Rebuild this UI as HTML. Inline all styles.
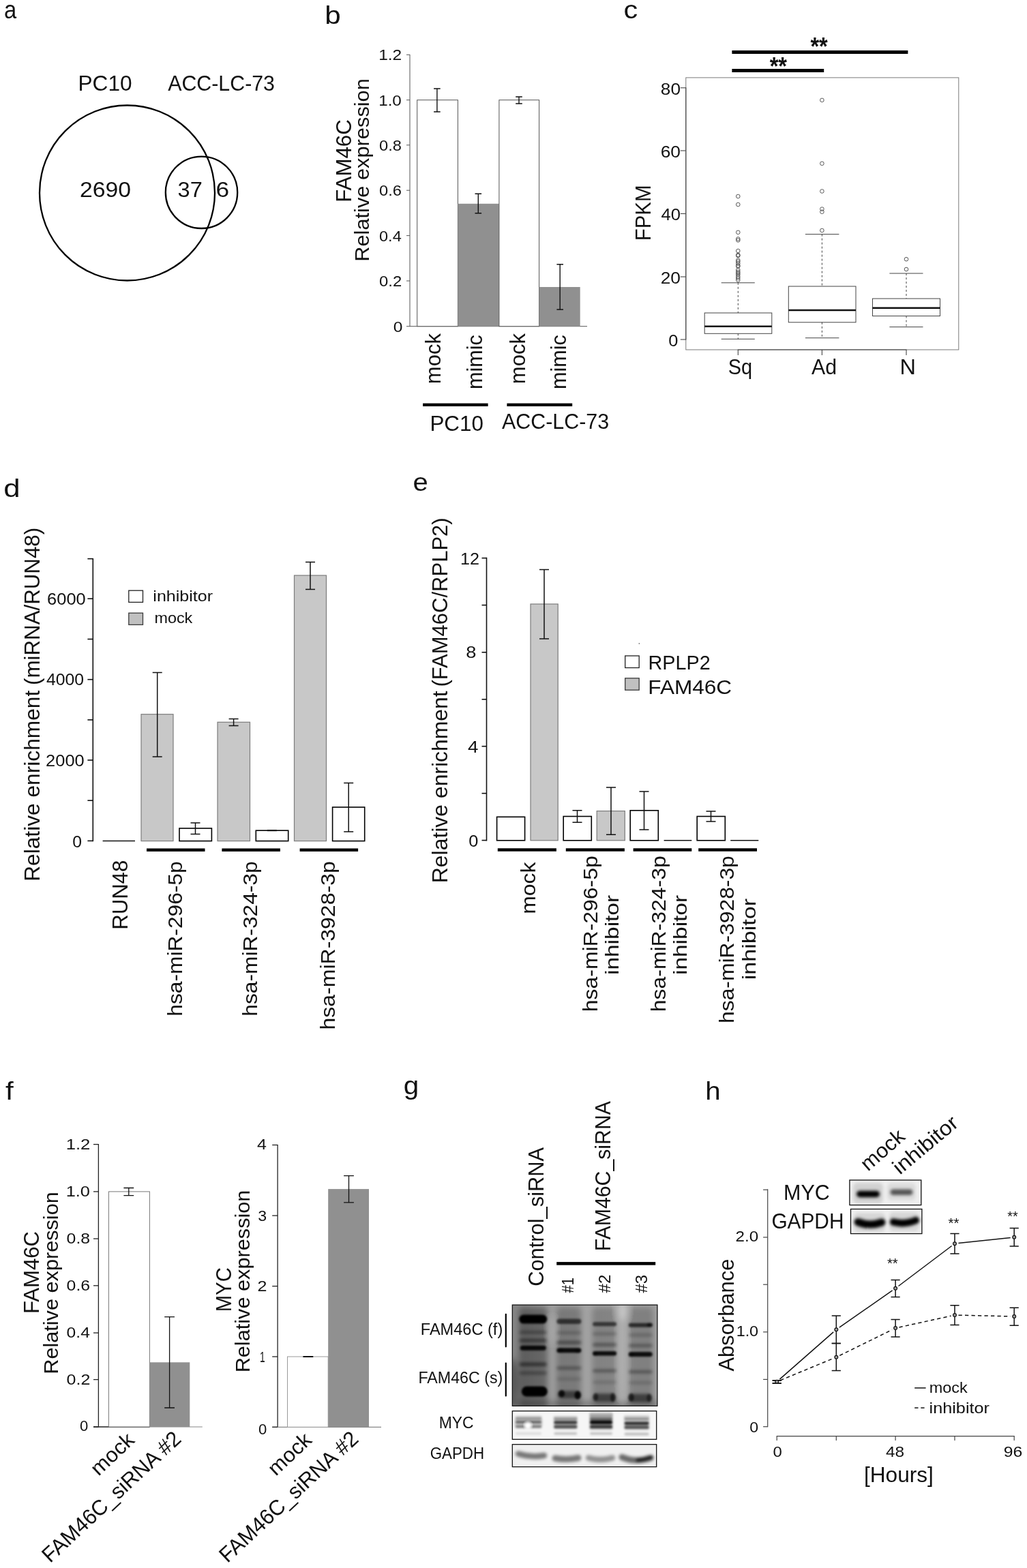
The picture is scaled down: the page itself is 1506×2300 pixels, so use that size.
<!DOCTYPE html>
<html lang="en">
<head>
<meta charset="utf-8">
<title>Figure</title>
<style>
html,body{margin:0;padding:0;background:#fff;}
body{width:1506px;height:2300px;overflow:hidden;}
svg{display:block;font-family:"Liberation Sans", "Noto Sans CJK JP", sans-serif;fill:#111;}
</style>
</head>
<body>
<svg width="1506" height="2300" viewBox="0 0 1506 2300">
<rect width="1506" height="2300" fill="#fff"/>
<g id="panel-a">
<text x="6.09" y="26.6" font-size="37.8" textLength="18.25" lengthAdjust="spacingAndGlyphs">a</text>
<text x="114.47" y="132.9" font-size="31.5" textLength="79.09" lengthAdjust="spacingAndGlyphs">PC10</text>
<text x="246.2" y="132.9" font-size="31.5" textLength="156.81" lengthAdjust="spacingAndGlyphs">ACC-LC-73</text>
<circle cx="186.5" cy="283" r="128.5" fill="none" stroke="#000" stroke-width="2.3"/>
<circle cx="295.5" cy="282.3" r="52.7" fill="none" stroke="#000" stroke-width="2.3"/>
<text x="117.01" y="288.8" font-size="31.5" textLength="75.06" lengthAdjust="spacingAndGlyphs">2690</text>
<text x="260.6" y="288.8" font-size="31.5" textLength="36.21" lengthAdjust="spacingAndGlyphs">37</text>
<text x="316.64" y="288.8" font-size="31.5" textLength="19.62" lengthAdjust="spacingAndGlyphs">6</text>
</g>
<g id="panel-b">
<text x="476.26" y="35" font-size="37.8" textLength="23.48" lengthAdjust="spacingAndGlyphs">b</text>
<line x1="601" y1="80" x2="601" y2="479" stroke="#555" stroke-width="1"/>
<line x1="596" y1="478.7" x2="861" y2="478.7" stroke="#555" stroke-width="1"/>
<line x1="596" y1="80.3" x2="601" y2="80.3" stroke="#555" stroke-width="1"/>
<text x="555.16" y="88.4" font-size="22.57" textLength="34.07" lengthAdjust="spacingAndGlyphs">1.2</text>
<line x1="596" y1="146.7" x2="601" y2="146.7" stroke="#555" stroke-width="1"/>
<text x="555.18" y="154.69" font-size="22.57" textLength="33.67" lengthAdjust="spacingAndGlyphs">1.0</text>
<line x1="596" y1="212.8" x2="601" y2="212.8" stroke="#555" stroke-width="1"/>
<text x="556.05" y="220.79" font-size="22.57" textLength="32.9" lengthAdjust="spacingAndGlyphs">0.8</text>
<line x1="596" y1="279.2" x2="601" y2="279.2" stroke="#555" stroke-width="1"/>
<text x="556.05" y="287.19" font-size="22.57" textLength="32.9" lengthAdjust="spacingAndGlyphs">0.6</text>
<line x1="596" y1="345.6" x2="601" y2="345.6" stroke="#555" stroke-width="1"/>
<text x="556.06" y="353.59" font-size="22.57" textLength="32.65" lengthAdjust="spacingAndGlyphs">0.4</text>
<line x1="596" y1="412" x2="601" y2="412" stroke="#555" stroke-width="1"/>
<text x="556.05" y="419.99" font-size="22.57" textLength="33.15" lengthAdjust="spacingAndGlyphs">0.2</text>
<text x="576.72" y="486.69" font-size="22.57" textLength="13.67" lengthAdjust="spacingAndGlyphs">0</text>
<text x="514.7" y="296.8" font-size="31.5" transform="rotate(-90 514.7 296.8)" textLength="121.6" lengthAdjust="spacingAndGlyphs">FAM46C</text>
<text x="541.1" y="383.76" font-size="29.93" transform="rotate(-90 541.1 383.76)" textLength="268.62" lengthAdjust="spacingAndGlyphs">Relative expression</text>
<rect x="611.7" y="146.7" width="59.7" height="332" fill="#fff" stroke="#555" stroke-width="1"/>
<rect x="671.4" y="298.8" width="60.5" height="179.9" fill="#909090"/>
<rect x="731.9" y="146.7" width="58.7" height="332" fill="#fff" stroke="#555" stroke-width="1"/>
<rect x="790.6" y="421" width="60.1" height="57.7" fill="#909090"/>
<path d="M636.1 130H645.7M636.1 164H645.7M640.9 130V164" stroke="#111" stroke-width="1.4" fill="none"/>
<path d="M696.5 284.2H706.1M696.5 312.7H706.1M701.3 284.2V312.7" stroke="#111" stroke-width="1.4" fill="none"/>
<path d="M756.2 142H765.8M756.2 152H765.8M761 142V152" stroke="#111" stroke-width="1.4" fill="none"/>
<path d="M816.4 387.8H826M816.4 454H826M821.2 387.8V454" stroke="#111" stroke-width="1.4" fill="none"/>
<text x="646.4" y="563.22" font-size="30.45" transform="rotate(-90 646.4 563.22)" textLength="74.19" lengthAdjust="spacingAndGlyphs">mock</text>
<text x="707.1" y="571.09" font-size="30.45" transform="rotate(-90 707.1 571.09)" textLength="79.87" lengthAdjust="spacingAndGlyphs">mimic</text>
<text x="769.8" y="563.22" font-size="30.45" transform="rotate(-90 769.8 563.22)" textLength="74.19" lengthAdjust="spacingAndGlyphs">mock</text>
<text x="830.5" y="571.09" font-size="30.45" transform="rotate(-90 830.5 571.09)" textLength="79.87" lengthAdjust="spacingAndGlyphs">mimic</text>
<rect x="620.1" y="591.6" width="95.5" height="4.4" fill="#000"/>
<rect x="743.4" y="591.6" width="95.8" height="4.4" fill="#000"/>
<text x="630.39" y="631.8" font-size="31.5" textLength="78.46" lengthAdjust="spacingAndGlyphs">PC10</text>
<text x="736.1" y="628.9" font-size="31.5" textLength="157.01" lengthAdjust="spacingAndGlyphs">ACC-LC-73</text>
</g>
<g id="panel-c">
<text x="914.44" y="26.9" font-size="37.8" textLength="20.69" lengthAdjust="spacingAndGlyphs">c</text>
<rect x="1073.4" y="74" width="258" height="5" fill="#000"/>
<rect x="1073.4" y="101" width="134.8" height="5" fill="#000"/>
<text x="1188.44" y="80.99" font-size="37.8" textLength="25.37" lengthAdjust="spacingAndGlyphs" font-weight="bold">**</text>
<text x="1128.64" y="110.49" font-size="37.8" textLength="25.37" lengthAdjust="spacingAndGlyphs" font-weight="bold">**</text>
<rect x="1005.8" y="113.9" width="400" height="399.1" fill="none" stroke="#7a7a7a" stroke-width="1"/>
<line x1="1005.8" y1="128.3" x2="1005.8" y2="498.5" stroke="#444" stroke-width="1.1"/>
<line x1="1081.8" y1="513" x2="1329.5" y2="513" stroke="#444" stroke-width="1.1"/>
<line x1="997.8" y1="128.8" x2="1005.8" y2="128.8" stroke="#444" stroke-width="1.1"/>
<text x="968.82" y="138.88" font-size="23.42" textLength="29.16" lengthAdjust="spacingAndGlyphs">80</text>
<line x1="997.8" y1="221" x2="1005.8" y2="221" stroke="#444" stroke-width="1.1"/>
<text x="968.68" y="231.08" font-size="23.42" textLength="29.3" lengthAdjust="spacingAndGlyphs">60</text>
<line x1="997.8" y1="313.4" x2="1005.8" y2="313.4" stroke="#444" stroke-width="1.1"/>
<text x="969.49" y="323.48" font-size="23.42" textLength="28.47" lengthAdjust="spacingAndGlyphs">40</text>
<line x1="997.8" y1="406" x2="1005.8" y2="406" stroke="#444" stroke-width="1.1"/>
<text x="968.68" y="416.08" font-size="23.42" textLength="29.3" lengthAdjust="spacingAndGlyphs">20</text>
<line x1="997.8" y1="498" x2="1005.8" y2="498" stroke="#444" stroke-width="1.1"/>
<text x="980.18" y="508.28" font-size="23.42" textLength="14.14" lengthAdjust="spacingAndGlyphs">0</text>
<text x="954" y="353.36" font-size="30.98" transform="rotate(-90 954 353.36)" textLength="82.01" lengthAdjust="spacingAndGlyphs">FPKM</text>
<line x1="1082.3" y1="513" x2="1082.3" y2="521" stroke="#444" stroke-width="1.1"/>
<text x="1067.8" y="549" font-size="30.77" textLength="35.37" lengthAdjust="spacingAndGlyphs">Sq</text>
<line x1="1205.4" y1="513" x2="1205.4" y2="521" stroke="#444" stroke-width="1.1"/>
<text x="1190" y="549" font-size="30.77" textLength="37.07" lengthAdjust="spacingAndGlyphs">Ad</text>
<line x1="1329" y1="513" x2="1329" y2="521" stroke="#444" stroke-width="1.1"/>
<text x="1319.5" y="549" font-size="30.77" textLength="23.47" lengthAdjust="spacingAndGlyphs">N</text>
<rect x="1033.2" y="459" width="98.6" height="30.3" fill="#fff" stroke="#444" stroke-width="1"/>
<line x1="1033.2" y1="478.8" x2="1131.8" y2="478.8" stroke="#111" stroke-width="2.4"/>
<line x1="1082.3" y1="414.8" x2="1082.3" y2="459" stroke="#444" stroke-width="1" stroke-dasharray="3 3"/>
<line x1="1082.3" y1="489.3" x2="1082.3" y2="497.3" stroke="#444" stroke-width="1" stroke-dasharray="3 3"/>
<line x1="1057.7" y1="414.8" x2="1106.8" y2="414.8" stroke="#444" stroke-width="1"/>
<line x1="1057.7" y1="497.3" x2="1106.8" y2="497.3" stroke="#444" stroke-width="1"/>
<rect x="1156.3" y="420" width="98.7" height="52.8" fill="#fff" stroke="#444" stroke-width="1"/>
<line x1="1156.3" y1="455" x2="1255" y2="455" stroke="#111" stroke-width="2.4"/>
<line x1="1205.4" y1="343.6" x2="1205.4" y2="420" stroke="#444" stroke-width="1" stroke-dasharray="3 3"/>
<line x1="1205.4" y1="472.8" x2="1205.4" y2="495.7" stroke="#444" stroke-width="1" stroke-dasharray="3 3"/>
<line x1="1180.9" y1="343.6" x2="1230.4" y2="343.6" stroke="#444" stroke-width="1"/>
<line x1="1180.9" y1="495.7" x2="1230.4" y2="495.7" stroke="#444" stroke-width="1"/>
<rect x="1279.5" y="438" width="99" height="25.5" fill="#fff" stroke="#444" stroke-width="1"/>
<line x1="1279.5" y1="451.8" x2="1378.5" y2="451.8" stroke="#111" stroke-width="2.4"/>
<line x1="1329" y1="401" x2="1329" y2="438" stroke="#444" stroke-width="1" stroke-dasharray="3 3"/>
<line x1="1329" y1="463.5" x2="1329" y2="479.6" stroke="#444" stroke-width="1" stroke-dasharray="3 3"/>
<line x1="1304.4" y1="401" x2="1353.5" y2="401" stroke="#444" stroke-width="1"/>
<line x1="1304.4" y1="479.6" x2="1353.5" y2="479.6" stroke="#444" stroke-width="1"/>
<circle cx="1082.3" cy="288" r="2.8" fill="none" stroke="#444" stroke-width="0.9"/>
<circle cx="1082.3" cy="300" r="2.8" fill="none" stroke="#444" stroke-width="0.9"/>
<circle cx="1082.3" cy="340.8" r="2.8" fill="none" stroke="#444" stroke-width="0.9"/>
<circle cx="1082.3" cy="350.4" r="2.8" fill="none" stroke="#444" stroke-width="0.9"/>
<circle cx="1082.3" cy="352.4" r="2.8" fill="none" stroke="#444" stroke-width="0.9"/>
<circle cx="1082.3" cy="368" r="2.8" fill="none" stroke="#444" stroke-width="0.9"/>
<circle cx="1082.3" cy="374" r="2.8" fill="none" stroke="#444" stroke-width="0.9"/>
<circle cx="1082.3" cy="375" r="2.8" fill="none" stroke="#444" stroke-width="0.9"/>
<circle cx="1082.3" cy="381.8" r="2.8" fill="none" stroke="#444" stroke-width="0.9"/>
<circle cx="1082.3" cy="383.8" r="2.8" fill="none" stroke="#444" stroke-width="0.9"/>
<circle cx="1082.3" cy="386.6" r="2.8" fill="none" stroke="#444" stroke-width="0.9"/>
<circle cx="1082.3" cy="389.5" r="2.8" fill="none" stroke="#444" stroke-width="0.9"/>
<circle cx="1082.3" cy="390.7" r="2.8" fill="none" stroke="#444" stroke-width="0.9"/>
<circle cx="1082.3" cy="396" r="2.8" fill="none" stroke="#444" stroke-width="0.9"/>
<circle cx="1082.3" cy="398.7" r="2.8" fill="none" stroke="#444" stroke-width="0.9"/>
<circle cx="1082.3" cy="400.7" r="2.8" fill="none" stroke="#444" stroke-width="0.9"/>
<circle cx="1082.3" cy="402.7" r="2.8" fill="none" stroke="#444" stroke-width="0.9"/>
<circle cx="1082.3" cy="405.5" r="2.8" fill="none" stroke="#444" stroke-width="0.9"/>
<circle cx="1082.3" cy="408" r="2.8" fill="none" stroke="#444" stroke-width="0.9"/>
<circle cx="1082.3" cy="410.8" r="2.8" fill="none" stroke="#444" stroke-width="0.9"/>
<circle cx="1205.4" cy="146.9" r="2.8" fill="none" stroke="#444" stroke-width="0.9"/>
<circle cx="1205.4" cy="239.8" r="2.8" fill="none" stroke="#444" stroke-width="0.9"/>
<circle cx="1205.4" cy="280.5" r="2.8" fill="none" stroke="#444" stroke-width="0.9"/>
<circle cx="1205.4" cy="306.6" r="2.8" fill="none" stroke="#444" stroke-width="0.9"/>
<circle cx="1205.4" cy="310.7" r="2.8" fill="none" stroke="#444" stroke-width="0.9"/>
<circle cx="1205.4" cy="338" r="2.8" fill="none" stroke="#444" stroke-width="0.9"/>
<circle cx="1329" cy="380.2" r="2.8" fill="none" stroke="#444" stroke-width="0.9"/>
<circle cx="1329" cy="395" r="2.8" fill="none" stroke="#444" stroke-width="0.9"/>
</g>
<g id="panel-d">
<text x="5.25" y="728.6" font-size="37.8" textLength="24.35" lengthAdjust="spacingAndGlyphs">d</text>
<line x1="136.3" y1="818.9" x2="136.3" y2="1234.2" stroke="#111" stroke-width="1.6"/>
<line x1="128.4" y1="819.6" x2="136.3" y2="819.6" stroke="#111" stroke-width="1.6"/>
<line x1="128.4" y1="878.2" x2="136.3" y2="878.2" stroke="#111" stroke-width="1.6"/>
<line x1="128.4" y1="937.5" x2="136.3" y2="937.5" stroke="#111" stroke-width="1.6"/>
<line x1="128.4" y1="996.7" x2="136.3" y2="996.7" stroke="#111" stroke-width="1.6"/>
<line x1="128.4" y1="1055.9" x2="136.3" y2="1055.9" stroke="#111" stroke-width="1.6"/>
<line x1="128.4" y1="1115" x2="136.3" y2="1115" stroke="#111" stroke-width="1.6"/>
<line x1="128.4" y1="1174.2" x2="136.3" y2="1174.2" stroke="#111" stroke-width="1.6"/>
<line x1="128.4" y1="1233.4" x2="136.3" y2="1233.4" stroke="#111" stroke-width="1.6"/>
<text x="69.13" y="886.53" font-size="24.15" textLength="56.55" lengthAdjust="spacingAndGlyphs">6000</text>
<text x="67.9" y="1005.23" font-size="24.15" textLength="55.16" lengthAdjust="spacingAndGlyphs">4000</text>
<text x="67.13" y="1123.53" font-size="24.15" textLength="56.55" lengthAdjust="spacingAndGlyphs">2000</text>
<text x="106.31" y="1242.53" font-size="24.15" textLength="13.79" lengthAdjust="spacingAndGlyphs">0</text>
<text x="57.8" y="1292.84" font-size="31.5" transform="rotate(-90 57.8 1292.84)" textLength="280.08" lengthAdjust="spacingAndGlyphs">Relative enrichment</text>
<text x="57.8" y="1004.88" font-size="31.5" transform="rotate(-90 57.8 1004.88)" textLength="230.99" lengthAdjust="spacingAndGlyphs">(miRNA/RUN48)</text>
<rect x="188.8" y="866.2" width="20.7" height="17.2" fill="#fff" stroke="#222" stroke-width="1.3"/>
<rect x="188.8" y="899.2" width="20.7" height="17.2" fill="#c0c0c0" stroke="#3a3a3a" stroke-width="1.3"/>
<text x="224.37" y="882" font-size="21.53" textLength="87.66" lengthAdjust="spacingAndGlyphs">inhibitor</text>
<text x="226.48" y="913.9" font-size="21.53" textLength="55.8" lengthAdjust="spacingAndGlyphs">mock</text>
<line x1="150.6" y1="1233.4" x2="198" y2="1233.4" stroke="#111" stroke-width="1.5"/>
<rect x="207" y="1047.7" width="47" height="185.9" fill="#c8c8c8" stroke="#7c7c7c" stroke-width="1.2"/>
<rect x="263" y="1215" width="47.4" height="18.6" fill="#fff" stroke="#000" stroke-width="1.6"/>
<rect x="319" y="1059.3" width="47.5" height="174.3" fill="#c8c8c8" stroke="#7c7c7c" stroke-width="1.2"/>
<rect x="375.3" y="1218.2" width="47.4" height="15.4" fill="#fff" stroke="#000" stroke-width="1.6"/>
<rect x="431.5" y="844" width="47" height="389.6" fill="#c8c8c8" stroke="#7c7c7c" stroke-width="1.2"/>
<rect x="487.6" y="1184" width="47.1" height="49.6" fill="#fff" stroke="#000" stroke-width="1.6"/>
<path d="M223.7 986.4H237.7M223.7 1110H237.7M230.7 986.4V1110" stroke="#111" stroke-width="1.5" fill="none"/>
<path d="M279.5 1207H293.5M279.5 1223.4H293.5M286.5 1207V1223.4" stroke="#111" stroke-width="1.5" fill="none"/>
<path d="M335.6 1054.5H349.6M335.6 1064.5H349.6M342.6 1054.5V1064.5" stroke="#111" stroke-width="1.5" fill="none"/>
<path d="M391.8 1218H405.8M391.8 1218.6H405.8M398.8 1218V1218.6" stroke="#111" stroke-width="1.5" fill="none"/>
<path d="M448 824.6H462M448 864.5H462M455 824.6V864.5" stroke="#111" stroke-width="1.5" fill="none"/>
<path d="M504.2 1148.5H518.2M504.2 1220H518.2M511.2 1148.5V1220" stroke="#111" stroke-width="1.5" fill="none"/>
<rect x="215" y="1244.5" width="85.5" height="4.5" fill="#000"/>
<rect x="325.4" y="1244.5" width="85.5" height="4.5" fill="#000"/>
<rect x="439.6" y="1244.5" width="85.5" height="4.5" fill="#000"/>
<text x="186.8" y="1363.79" font-size="31.5" transform="rotate(-90 186.8 1363.79)" textLength="102" lengthAdjust="spacingAndGlyphs">RUN48</text>
<text x="266.6" y="1490.72" font-size="28.88" transform="rotate(-90 266.6 1490.72)" textLength="227.38" lengthAdjust="spacingAndGlyphs">hsa-miR-296-5p</text>
<text x="377.3" y="1490.72" font-size="28.88" transform="rotate(-90 377.3 1490.72)" textLength="227.38" lengthAdjust="spacingAndGlyphs">hsa-miR-324-3p</text>
<text x="491.2" y="1510.44" font-size="28.88" transform="rotate(-90 491.2 1510.44)" textLength="247.15" lengthAdjust="spacingAndGlyphs">hsa-miR-3928-3p</text>
</g>
<g id="panel-e">
<text x="605.4" y="720" font-size="37.8" textLength="22.25" lengthAdjust="spacingAndGlyphs">e</text>
<line x1="713.5" y1="817.8" x2="713.5" y2="1233.4" stroke="#111" stroke-width="1.6"/>
<line x1="706.5" y1="818.6" x2="713.5" y2="818.6" stroke="#111" stroke-width="1.6"/>
<line x1="706.5" y1="887.6" x2="713.5" y2="887.6" stroke="#111" stroke-width="1.6"/>
<line x1="706.5" y1="956.8" x2="713.5" y2="956.8" stroke="#111" stroke-width="1.6"/>
<line x1="706.5" y1="1025.8" x2="713.5" y2="1025.8" stroke="#111" stroke-width="1.6"/>
<line x1="706.5" y1="1094.7" x2="713.5" y2="1094.7" stroke="#111" stroke-width="1.6"/>
<line x1="706.5" y1="1163.7" x2="713.5" y2="1163.7" stroke="#111" stroke-width="1.6"/>
<line x1="706.5" y1="1232.6" x2="713.5" y2="1232.6" stroke="#111" stroke-width="1.6"/>
<text x="675.11" y="827.79" font-size="23.1" textLength="28.01" lengthAdjust="spacingAndGlyphs">12</text>
<text x="683.27" y="965.17" font-size="23.1" textLength="15.15" lengthAdjust="spacingAndGlyphs">8</text>
<text x="685.95" y="1103.97" font-size="23.1" textLength="15.42" lengthAdjust="spacingAndGlyphs">4</text>
<text x="687.28" y="1242.07" font-size="23.1" textLength="14.14" lengthAdjust="spacingAndGlyphs">0</text>
<text x="655.7" y="1295.15" font-size="30.98" transform="rotate(-90 655.7 1295.15)" textLength="281.79" lengthAdjust="spacingAndGlyphs">Relative enrichment</text>
<text x="655.7" y="1007.46" font-size="30.98" transform="rotate(-90 655.7 1007.46)" textLength="248.11" lengthAdjust="spacingAndGlyphs">(FAM46C/RPLP2)</text>
<rect x="728.6" y="1198.3" width="41" height="34.5" fill="#fff" stroke="#000" stroke-width="1.6"/>
<rect x="778" y="886" width="40.2" height="346.8" fill="#c8c8c8" stroke="#7c7c7c" stroke-width="1.2"/>
<rect x="826.2" y="1197.5" width="41.1" height="35.3" fill="#fff" stroke="#000" stroke-width="1.6"/>
<rect x="875.2" y="1189.6" width="41.1" height="43.2" fill="#c8c8c8" stroke="#7c7c7c" stroke-width="1.2"/>
<rect x="924.2" y="1188.8" width="41.1" height="44" fill="#fff" stroke="#000" stroke-width="1.6"/>
<line x1="973.6" y1="1232.8" x2="1014.3" y2="1232.8" stroke="#111" stroke-width="1.5"/>
<rect x="1022.2" y="1197.5" width="41.1" height="35.3" fill="#fff" stroke="#000" stroke-width="1.6"/>
<line x1="1071.2" y1="1232.8" x2="1112.3" y2="1232.8" stroke="#111" stroke-width="1.5"/>
<path d="M791 835.4H805M791 937H805M798 835.4V937" stroke="#111" stroke-width="1.5" fill="none"/>
<path d="M839.5 1188.8H853.5M839.5 1206.3H853.5M846.5 1188.8V1206.3" stroke="#111" stroke-width="1.5" fill="none"/>
<path d="M889 1155H903M889 1224.2H903M896 1155V1224.2" stroke="#111" stroke-width="1.5" fill="none"/>
<path d="M937.5 1161H951.5M937.5 1217H951.5M944.5 1161V1217" stroke="#111" stroke-width="1.5" fill="none"/>
<path d="M1035.5 1190H1049.5M1035.5 1205H1049.5M1042.5 1190V1205" stroke="#111" stroke-width="1.5" fill="none"/>
<rect x="729.8" y="1244.3" width="86.1" height="4.5" fill="#000"/>
<rect x="829.8" y="1244.3" width="86.1" height="4.5" fill="#000"/>
<rect x="928.6" y="1244.3" width="85.7" height="4.5" fill="#000"/>
<rect x="1024.2" y="1244.3" width="85.8" height="4.5" fill="#000"/>
<rect x="916.7" y="962" width="20.5" height="17.5" fill="#fff" stroke="#222" stroke-width="1.3"/>
<rect x="916.7" y="994.8" width="20.5" height="17.4" fill="#c0c0c0" stroke="#3a3a3a" stroke-width="1.3"/>
<circle cx="937.3" cy="944" r="0.75" fill="#333" stroke="none" stroke-width="0"/>
<text x="950.6" y="981.6" font-size="29.93" textLength="91.04" lengthAdjust="spacingAndGlyphs">RPLP2</text>
<text x="950.38" y="1017.7" font-size="29.93" textLength="122.74" lengthAdjust="spacingAndGlyphs">FAM46C</text>
<text x="785.2" y="1340.67" font-size="29.93" transform="rotate(-90 785.2 1340.67)" textLength="76.15" lengthAdjust="spacingAndGlyphs">mock</text>
<text x="876" y="1484.24" font-size="28.88" transform="rotate(-90 876 1484.24)" textLength="229.01" lengthAdjust="spacingAndGlyphs">hsa-miR-296-5p</text>
<text x="906.6" y="1429.97" font-size="27.83" transform="rotate(-90 906.6 1429.97)" textLength="117.04" lengthAdjust="spacingAndGlyphs">inhibitor</text>
<text x="976.4" y="1484.24" font-size="28.88" transform="rotate(-90 976.4 1484.24)" textLength="229.01" lengthAdjust="spacingAndGlyphs">hsa-miR-324-3p</text>
<text x="1007.4" y="1429.97" font-size="27.83" transform="rotate(-90 1007.4 1429.97)" textLength="117.04" lengthAdjust="spacingAndGlyphs">inhibitor</text>
<text x="1076.4" y="1500.93" font-size="28.88" transform="rotate(-90 1076.4 1500.93)" textLength="245.73" lengthAdjust="spacingAndGlyphs">hsa-miR-3928-3p</text>
<text x="1108.2" y="1437.21" font-size="27.83" transform="rotate(-90 1108.2 1437.21)" textLength="119.19" lengthAdjust="spacingAndGlyphs">inhibitor</text>
</g>
<g id="panel-f">
<text x="7.97" y="1612.6" font-size="37.8" textLength="11.74" lengthAdjust="spacingAndGlyphs">f</text>
<line x1="144.4" y1="1678" x2="144.4" y2="2093.6" stroke="#222" stroke-width="1.3"/>
<line x1="137" y1="2093" x2="296.8" y2="2093" stroke="#888" stroke-width="1.2"/>
<line x1="137" y1="2093" x2="219.4" y2="2093" stroke="#333" stroke-width="1.3"/>
<line x1="137" y1="1678.6" x2="144.4" y2="1678.6" stroke="#222" stroke-width="1.3"/>
<text x="96.67" y="1686.02" font-size="22.05" textLength="35.72" lengthAdjust="spacingAndGlyphs">1.2</text>
<line x1="137" y1="1747.9" x2="144.4" y2="1747.9" stroke="#222" stroke-width="1.3"/>
<text x="96.7" y="1755.21" font-size="22.05" textLength="35.3" lengthAdjust="spacingAndGlyphs">1.0</text>
<line x1="137" y1="1817" x2="144.4" y2="1817" stroke="#222" stroke-width="1.3"/>
<text x="97.61" y="1824.31" font-size="22.05" textLength="34.49" lengthAdjust="spacingAndGlyphs">0.8</text>
<line x1="137" y1="1885.8" x2="144.4" y2="1885.8" stroke="#222" stroke-width="1.3"/>
<text x="97.61" y="1893.11" font-size="22.05" textLength="34.49" lengthAdjust="spacingAndGlyphs">0.6</text>
<line x1="137" y1="1955.1" x2="144.4" y2="1955.1" stroke="#222" stroke-width="1.3"/>
<text x="97.62" y="1962.41" font-size="22.05" textLength="34.23" lengthAdjust="spacingAndGlyphs">0.4</text>
<line x1="137" y1="2023.6" x2="144.4" y2="2023.6" stroke="#222" stroke-width="1.3"/>
<text x="97.6" y="2030.91" font-size="22.05" textLength="34.75" lengthAdjust="spacingAndGlyphs">0.2</text>
<line x1="137" y1="2093" x2="144.4" y2="2093" stroke="#222" stroke-width="1.3"/>
<text x="117.02" y="2099.41" font-size="22.05" textLength="12.28" lengthAdjust="spacingAndGlyphs">0</text>
<text x="57.4" y="1927.09" font-size="31.5" transform="rotate(-90 57.4 1927.09)" textLength="121.19" lengthAdjust="spacingAndGlyphs">FAM46C</text>
<text x="84.5" y="2015.75" font-size="29.93" transform="rotate(-90 84.5 2015.75)" textLength="267.5" lengthAdjust="spacingAndGlyphs">Relative expression</text>
<rect x="159.4" y="1747.9" width="60" height="345.1" fill="#fff" stroke="#777" stroke-width="1"/>
<rect x="219.4" y="1998.3" width="58.9" height="94.7" fill="#909090"/>
<path d="M181.4 1742.5H196.2M181.4 1753.7H196.2M188.8 1742.5V1753.7" stroke="#111" stroke-width="1.3" fill="none"/>
<path d="M241.2 1931.6H256M241.2 2065H256M248.6 1931.6V2065" stroke="#111" stroke-width="1.3" fill="none"/>
<text x="144.52" y="2166" font-size="30.45" transform="rotate(-43.4 144.52 2166)" textLength="75.02" lengthAdjust="spacingAndGlyphs">mock</text>
<text x="73.5" y="2293.58" font-size="31.5" transform="rotate(-42.95 73.5 2293.58)" textLength="265" lengthAdjust="spacingAndGlyphs">FAM46C_siRNA #2</text>
<line x1="407.1" y1="1679" x2="407.1" y2="2093.9" stroke="#222" stroke-width="1.3"/>
<line x1="399.2" y1="2093.3" x2="559" y2="2093.3" stroke="#888" stroke-width="1.2"/>
<line x1="399.2" y1="1679.5" x2="407.1" y2="1679.5" stroke="#222" stroke-width="1.3"/>
<text x="377.1" y="1686.11" font-size="22.05" textLength="13.88" lengthAdjust="spacingAndGlyphs">4</text>
<line x1="399.2" y1="1783.1" x2="407.1" y2="1783.1" stroke="#222" stroke-width="1.3"/>
<text x="378.27" y="1790.71" font-size="22.05" textLength="12.88" lengthAdjust="spacingAndGlyphs">3</text>
<line x1="399.2" y1="1886.6" x2="407.1" y2="1886.6" stroke="#222" stroke-width="1.3"/>
<text x="377.55" y="1894.32" font-size="22.05" textLength="13.93" lengthAdjust="spacingAndGlyphs">2</text>
<line x1="399.2" y1="1990" x2="407.1" y2="1990" stroke="#222" stroke-width="1.3"/>
<text x="380.97" y="1997.61" font-size="22.05" textLength="7.67" lengthAdjust="spacingAndGlyphs">1</text>
<line x1="399.2" y1="2093.3" x2="407.1" y2="2093.3" stroke="#222" stroke-width="1.3"/>
<text x="379.12" y="2103.61" font-size="22.05" textLength="12.28" lengthAdjust="spacingAndGlyphs">0</text>
<text x="339.4" y="1924.35" font-size="31.5" transform="rotate(-90 339.4 1924.35)" textLength="65.24" lengthAdjust="spacingAndGlyphs">MYC</text>
<text x="366.5" y="2013.36" font-size="29.93" transform="rotate(-90 366.5 2013.36)" textLength="267.8" lengthAdjust="spacingAndGlyphs">Relative expression</text>
<rect x="421.5" y="1990" width="59.7" height="103.3" fill="#fff" stroke="#999" stroke-width="1"/>
<rect x="481.2" y="1744.1" width="59.8" height="349.2" fill="#909090"/>
<line x1="444.4" y1="1990" x2="459.3" y2="1990" stroke="#111" stroke-width="2"/>
<path d="M504.1 1724.7H518.9M504.1 1763.8H518.9M511.5 1724.7V1763.8" stroke="#111" stroke-width="1.3" fill="none"/>
<text x="404.52" y="2166" font-size="30.45" transform="rotate(-43.4 404.52 2166)" textLength="75.02" lengthAdjust="spacingAndGlyphs">mock</text>
<text x="333.5" y="2293.58" font-size="31.5" transform="rotate(-42.95 333.5 2293.58)" textLength="265" lengthAdjust="spacingAndGlyphs">FAM46C_siRNA #2</text>
</g>
<g id="panel-g">
<text x="591.68" y="1604.7" font-size="37.8" textLength="22.49" lengthAdjust="spacingAndGlyphs">g</text>
<text x="796.6" y="1886.84" font-size="31.5" transform="rotate(-90 796.6 1886.84)" textLength="204.05" lengthAdjust="spacingAndGlyphs">Control_siRNA</text>
<text x="895.4" y="1835.12" font-size="31.5" transform="rotate(-90 895.4 1835.12)" textLength="220.02" lengthAdjust="spacingAndGlyphs">FAM46C_siRNA</text>
<rect x="816.2" y="1851.1" width="145" height="4.6" fill="#000"/>
<text x="840.7" y="1896.5" font-size="23.52" transform="rotate(-90 840.7 1896.5)" textLength="22.56" lengthAdjust="spacingAndGlyphs">#1</text>
<text x="894.9" y="1896.52" font-size="23.52" transform="rotate(-90 894.9 1896.52)" textLength="26.89" lengthAdjust="spacingAndGlyphs">#2</text>
<text x="948.8" y="1896.52" font-size="23.52" transform="rotate(-90 948.8 1896.52)" textLength="26.63" lengthAdjust="spacingAndGlyphs">#3</text>
<text x="616.82" y="1958" font-size="23.42" textLength="120.45" lengthAdjust="spacingAndGlyphs">FAM46C (f)</text>
<text x="613.44" y="2029.4" font-size="23.42" textLength="123.85" lengthAdjust="spacingAndGlyphs">FAM46C (s)</text>
<text x="643.77" y="2094.7" font-size="23.42" textLength="50.78" lengthAdjust="spacingAndGlyphs">MYC</text>
<text x="630.68" y="2139.5" font-size="23.42" textLength="79.43" lengthAdjust="spacingAndGlyphs">GAPDH</text>
<line x1="741.8" y1="1927.8" x2="741.8" y2="1975.3" stroke="#000" stroke-width="2.2" stroke-linecap="round"/>
<line x1="741.8" y1="1999.6" x2="741.8" y2="2047.4" stroke="#000" stroke-width="2.2" stroke-linecap="round"/>
<defs><filter id="bl1" filterUnits="userSpaceOnUse" x="700" y="1700" width="700" height="500"><feGaussianBlur stdDeviation="1.7"/></filter><filter id="bl1b" filterUnits="userSpaceOnUse" x="700" y="1700" width="700" height="500"><feGaussianBlur stdDeviation="2.3"/></filter><filter id="bl2" filterUnits="userSpaceOnUse" x="700" y="1700" width="700" height="500"><feGaussianBlur stdDeviation="4"/></filter><filter id="bl3" filterUnits="userSpaceOnUse" x="700" y="1700" width="700" height="500"><feGaussianBlur stdDeviation="1.3"/></filter><clipPath id="cg1"><rect x="751.3" y="1914.1" width="212.6" height="148.2"/></clipPath><clipPath id="cg2"><rect x="751.3" y="2069.7" width="211.4" height="41.6"/></clipPath><clipPath id="cg3"><rect x="751.3" y="2118.7" width="211.4" height="32.9"/></clipPath><linearGradient id="gg1" x1="0" y1="0" x2="1" y2="0"><stop offset="0" stop-color="#848484"/><stop offset="0.25" stop-color="#9c9c9c"/><stop offset="0.7" stop-color="#a8a8a8"/><stop offset="1" stop-color="#a0a0a0"/></linearGradient></defs>
<rect x="751.3" y="1914.1" width="212.6" height="148.2" fill="url(#gg1)"/>
<g clip-path="url(#cg1)">
<g filter="url(#bl2)">
<rect x="760.72" y="1917" width="42.23" height="150" rx="6" fill="#000" opacity="0.33"/>
<rect x="816.18" y="1917" width="36.18" height="150" rx="6" fill="#000" opacity="0.24"/>
<rect x="868.29" y="1917" width="36.65" height="150" rx="6" fill="#000" opacity="0.21"/>
<rect x="920.88" y="1917" width="36.65" height="150" rx="6" fill="#000" opacity="0.21"/>
<rect x="905.91" y="1907.31" width="14" height="30" rx="15" fill="#fff" opacity="0.3"/>
<rect x="908.41" y="1904.68" width="9" height="150" rx="75" fill="#fff" opacity="0.1"/>
<rect x="805.32" y="1931" width="8" height="40" rx="20" fill="#fff" opacity="0.12"/>
<rect x="745.75" y="1992.49" width="14" height="70" rx="35" fill="#000" opacity="0.35"/>
<rect x="749.5" y="2055" width="215" height="10" rx="2" fill="#000" opacity="0.22"/>
</g>
<g filter="url(#bl1b)">
<rect x="761.75" y="1951.68" width="40" height="5" rx="2.5" fill="#000" opacity="0.32"/>
<rect x="761.75" y="1963.64" width="40" height="5" rx="2.5" fill="#000" opacity="0.45"/>
<rect x="761.75" y="1998.45" width="40" height="5.5" rx="2.75" fill="#000" opacity="0.5"/>
<rect x="761.75" y="2011.44" width="40" height="5" rx="2.5" fill="#000" opacity="0.32"/>
<rect x="816.34" y="1952.48" width="36" height="5" rx="2.5" fill="#000" opacity="0.2"/>
<rect x="816.34" y="1966.82" width="36" height="5" rx="2.5" fill="#000" opacity="0.4"/>
<rect x="816.34" y="2004.52" width="36" height="4.5" rx="2.25" fill="#000" opacity="0.35"/>
<rect x="816.34" y="2020.21" width="36" height="5" rx="2.5" fill="#000" opacity="0.14"/>
<rect x="869.11" y="1954.07" width="35" height="5" rx="2.5" fill="#000" opacity="0.2"/>
<rect x="869.11" y="1970.01" width="35" height="5" rx="2.5" fill="#000" opacity="0.36"/>
<rect x="869.11" y="2008.51" width="35" height="4.5" rx="2.25" fill="#000" opacity="0.36"/>
<rect x="869.11" y="2024.99" width="35" height="5" rx="2.5" fill="#000" opacity="0.14"/>
<rect x="921.7" y="1955.67" width="35" height="5" rx="2.5" fill="#000" opacity="0.2"/>
<rect x="921.7" y="1971.13" width="35" height="5" rx="2.5" fill="#000" opacity="0.32"/>
<rect x="921.7" y="2010.1" width="35" height="4.5" rx="2.25" fill="#000" opacity="0.36"/>
<rect x="921.7" y="2025.79" width="35" height="5" rx="2.5" fill="#000" opacity="0.16"/>
<rect x="817.82" y="2040.32" width="34" height="11" rx="5.5" fill="#000" opacity="0.5"/>
<rect x="869.29" y="2044.12" width="34" height="12" rx="6" fill="#000" opacity="0.5"/>
<rect x="921.88" y="2044.6" width="34" height="12" rx="6" fill="#000" opacity="0.5"/>
</g>
<g filter="url(#bl1)">
<rect x="761.25" y="1928.56" width="41" height="13" rx="6.5" fill="#000" opacity="1"/>
<rect x="763.75" y="1931.36" width="36" height="9" rx="4.5" fill="#000" opacity="1"/>
<rect x="762.75" y="1973.79" width="38" height="7" rx="3.5" fill="#000" opacity="0.92"/>
<rect x="764.82" y="2033.54" width="38" height="15" rx="7.5" fill="#000" opacity="1"/>
<rect x="767.32" y="2035.54" width="33" height="11" rx="5.5" fill="#000" opacity="1"/>
<rect x="816.34" y="1934.5" width="36" height="7.5" rx="3.75" fill="#000" opacity="0.62"/>
<rect x="816.34" y="1977.3" width="36" height="7" rx="3.5" fill="#000" opacity="0.92"/>
<rect x="818.07" y="1977.3" width="8" height="7" rx="3.5" fill="#000" opacity="0.4"/>
<rect x="842.77" y="1977.77" width="8" height="7" rx="3.5" fill="#000" opacity="0.4"/>
<rect x="819.17" y="2039.22" width="9" height="10" rx="5" fill="#000" opacity="0.85"/>
<rect x="842.59" y="2040.61" width="9" height="12" rx="6" fill="#000" opacity="0.9"/>
<rect x="869.11" y="1939.23" width="35" height="6" rx="3" fill="#000" opacity="0.6"/>
<rect x="869.11" y="1982.01" width="35" height="6.5" rx="3.25" fill="#000" opacity="0.9"/>
<rect x="869.57" y="1983.06" width="7" height="6" rx="3" fill="#000" opacity="0.4"/>
<rect x="870.05" y="2043.5" width="7" height="11" rx="5.5" fill="#000" opacity="0.55"/>
<rect x="895.07" y="2043.3" width="7" height="13" rx="6.5" fill="#000" opacity="0.6"/>
<rect x="921.7" y="1940.82" width="35" height="6" rx="3" fill="#000" opacity="0.68"/>
<rect x="948.75" y="1940.6" width="8" height="5.5" rx="2.75" fill="#000" opacity="0.6"/>
<rect x="921.7" y="1983.03" width="35" height="7" rx="3.5" fill="#000" opacity="0.9"/>
<rect x="921.66" y="1984.33" width="8" height="6" rx="3" fill="#000" opacity="0.4"/>
<rect x="921.66" y="2043.8" width="8" height="12" rx="6" fill="#000" opacity="0.6"/>
<rect x="948.45" y="2044.6" width="7" height="12" rx="6" fill="#000" opacity="0.5"/>
</g>
</g>
<rect x="751.3" y="1914.1" width="212.6" height="148.2" fill="none" stroke="#111" stroke-width="1.3"/>
<rect x="751.3" y="2069.7" width="211.4" height="41.6" fill="#f6f6f6"/>
<g clip-path="url(#cg2)"><g filter="url(#bl1)">
<rect x="754" y="2079.87" width="42" height="14" rx="4" fill="#000" opacity="0.08"/>
<rect x="755" y="2076.08" width="40" height="20" rx="3" fill="#000" opacity="0.1"/>
<rect x="811.3" y="2076.87" width="36" height="20" rx="3" fill="#000" opacity="0.14"/>
<rect x="864" y="2071.48" width="35" height="26" rx="3" fill="#000" opacity="0.2"/>
<rect x="914.6" y="2075.87" width="38" height="22" rx="3" fill="#000" opacity="0.14"/>
<rect x="756" y="2078.5" width="38" height="4" rx="2" fill="#000" opacity="0.28"/>
<rect x="756" y="2084.08" width="38" height="4" rx="2" fill="#000" opacity="0.5"/>
<rect x="756" y="2090.45" width="38" height="4" rx="2" fill="#000" opacity="0.4"/>
<rect x="756" y="2100.81" width="38" height="4" rx="2" fill="#000" opacity="0.1"/>
<rect x="812.3" y="2079.29" width="34" height="4" rx="2" fill="#000" opacity="0.3"/>
<rect x="812.3" y="2084.14" width="34" height="4.5" rx="2.25" fill="#000" opacity="0.75"/>
<rect x="812.3" y="2090.27" width="34" height="5" rx="2.5" fill="#000" opacity="0.62"/>
<rect x="812.3" y="2100.81" width="34" height="4" rx="2" fill="#000" opacity="0.2"/>
<rect x="865" y="2074.76" width="33" height="3.5" rx="1.75" fill="#000" opacity="0.2"/>
<rect x="865" y="2079.04" width="33" height="4.5" rx="2.25" fill="#000" opacity="0.45"/>
<rect x="865" y="2083.49" width="33" height="5.5" rx="2.75" fill="#000" opacity="0.95"/>
<rect x="865" y="2090.27" width="33" height="5" rx="2.5" fill="#000" opacity="0.72"/>
<rect x="865" y="2100.81" width="33" height="4" rx="2" fill="#000" opacity="0.2"/>
<rect x="915.6" y="2079.29" width="36" height="4" rx="2" fill="#000" opacity="0.3"/>
<rect x="915.6" y="2085.42" width="36" height="4.5" rx="2.25" fill="#000" opacity="0.8"/>
<rect x="915.6" y="2091.07" width="36" height="5" rx="2.5" fill="#000" opacity="0.6"/>
<rect x="915.6" y="2101.61" width="36" height="4" rx="2" fill="#000" opacity="0.22"/>
<rect x="769.76" y="2086.61" width="9" height="8.5" rx="4.25" fill="#fff" opacity="1"/>
<rect x="771.26" y="2087.86" width="6" height="6" rx="3" fill="#fff" opacity="1"/>
</g></g>
<rect x="751.3" y="2069.7" width="211.4" height="41.6" fill="none" stroke="#111" stroke-width="1.3"/>
<rect x="751.3" y="2118.7" width="211.4" height="32.9" fill="#f0f0f0"/>
<g clip-path="url(#cg3)"><g filter="url(#bl1b)" fill="none" stroke-linecap="round">
<path d="M760 2132.5Q779 2138.25 798 2135" stroke="#000" stroke-width="8.5" opacity="0.5"/>
<path d="M814 2139Q831 2142.25 848 2138.5" stroke="#000" stroke-width="9" opacity="0.5"/>
<path d="M863 2138.5Q880.5 2143.5 898 2138.5" stroke="#000" stroke-width="8.5" opacity="0.4"/>
<path d="M912 2137.5Q933 2146 954 2138.5" stroke="#000" stroke-width="9" opacity="0.56"/>
<path d="M935 2142Q945 2141.25 955 2137.5" stroke="#000" stroke-width="5" opacity="0.8"/>
</g></g>
<rect x="751.3" y="2118.7" width="211.4" height="32.9" fill="none" stroke="#111" stroke-width="1.3"/>
</g>
<g id="panel-h">
<text x="1034.38" y="1613.2" font-size="37.8" textLength="22.38" lengthAdjust="spacingAndGlyphs">h</text>
<line x1="1125.7" y1="1744.3" x2="1125.7" y2="2093.2" stroke="#444" stroke-width="1.2"/>
<line x1="1119.1" y1="1745.2" x2="1125.7" y2="1745.2" stroke="#444" stroke-width="1.2"/>
<line x1="1119.1" y1="1814.9" x2="1125.7" y2="1814.9" stroke="#444" stroke-width="1.2"/>
<line x1="1119.1" y1="1884.2" x2="1125.7" y2="1884.2" stroke="#444" stroke-width="1.2"/>
<line x1="1119.1" y1="1953.8" x2="1125.7" y2="1953.8" stroke="#444" stroke-width="1.2"/>
<line x1="1119.1" y1="2023.4" x2="1125.7" y2="2023.4" stroke="#444" stroke-width="1.2"/>
<line x1="1119.1" y1="2092.7" x2="1125.7" y2="2092.7" stroke="#444" stroke-width="1.2"/>
<text x="1078.59" y="1821.19" font-size="22.57" textLength="33.56" lengthAdjust="spacingAndGlyphs">2.0</text>
<text x="1079.65" y="1960.39" font-size="22.57" textLength="32.47" lengthAdjust="spacingAndGlyphs">1.0</text>
<text x="1099.28" y="2100.69" font-size="22.57" textLength="12.86" lengthAdjust="spacingAndGlyphs">0</text>
<text x="1076.4" y="2011.6" font-size="31.5" transform="rotate(-90 1076.4 2011.6)" textLength="164.96" lengthAdjust="spacingAndGlyphs">Absorbance</text>
<line x1="1138.7" y1="2106.7" x2="1487.8" y2="2106.7" stroke="#444" stroke-width="1.2"/>
<line x1="1139.2" y1="2106.7" x2="1139.2" y2="2113.1" stroke="#444" stroke-width="1.2"/>
<line x1="1226.3" y1="2106.7" x2="1226.3" y2="2113.1" stroke="#444" stroke-width="1.2"/>
<line x1="1313.1" y1="2106.7" x2="1313.1" y2="2113.1" stroke="#444" stroke-width="1.2"/>
<line x1="1400" y1="2106.7" x2="1400" y2="2113.1" stroke="#444" stroke-width="1.2"/>
<line x1="1487.2" y1="2106.7" x2="1487.2" y2="2113.1" stroke="#444" stroke-width="1.2"/>
<text x="1133.64" y="2137.2" font-size="22.57" textLength="13.32" lengthAdjust="spacingAndGlyphs">0</text>
<text x="1298.91" y="2137.2" font-size="22.57" textLength="27.12" lengthAdjust="spacingAndGlyphs">48</text>
<text x="1471.78" y="2137.2" font-size="22.57" textLength="27.56" lengthAdjust="spacingAndGlyphs">96</text>
<text x="1266.99" y="2174.1" font-size="30.98" textLength="101.93" lengthAdjust="spacingAndGlyphs">[Hours]</text>
<path d="M1143.33 2023.17L1222.17 1953.83M1230.81 1947.06L1308.59 1892.94M1317.49 1886.49L1395.61 1827.51M1405.47 1823.61L1481.73 1815.39" fill="none" stroke="#111" stroke-width="1.5"/>
<path d="M1144.28 2024.7L1221.22 1992.9M1231.24 1988.37L1308.16 1950.53M1318.47 1946.92L1394.63 1930.18M1405.5 1929.13L1481.7 1930.87" fill="none" stroke="#111" stroke-width="1.5" stroke-dasharray="5.3 4.2"/>
<path d="M1132.6 2024.9H1145.8M1132.6 2029H1145.8M1139.2 2024.9V2029" stroke="#111" stroke-width="1.5" fill="none"/>
<path d="M1219.7 1929.9H1232.9M1219.7 1970.4H1232.9M1226.3 1929.9V1970.4" stroke="#111" stroke-width="1.5" fill="none"/>
<path d="M1306.5 1877.4H1319.7M1306.5 1902.4H1319.7M1313.1 1877.4V1902.4" stroke="#111" stroke-width="1.5" fill="none"/>
<path d="M1393.4 1809.6H1406.6M1393.4 1838.9H1406.6M1400 1809.6V1838.9" stroke="#111" stroke-width="1.5" fill="none"/>
<path d="M1480.6 1801.5H1493.8M1480.6 1828.1H1493.8M1487.2 1801.5V1828.1" stroke="#111" stroke-width="1.5" fill="none"/>
<path d="M1132.6 2024.9H1145.8M1132.6 2029H1145.8M1139.2 2024.9V2029" stroke="#111" stroke-width="1.5" fill="none"/>
<path d="M1219.7 1970.4H1232.9M1219.7 2010.4H1232.9M1226.3 1970.4V2010.4" stroke="#111" stroke-width="1.5" fill="none"/>
<path d="M1306.5 1935.5H1319.7M1306.5 1960.9H1319.7M1313.1 1935.5V1960.9" stroke="#111" stroke-width="1.5" fill="none"/>
<path d="M1393.4 1914.7H1406.6M1393.4 1943.4H1406.6M1400 1914.7V1943.4" stroke="#111" stroke-width="1.5" fill="none"/>
<path d="M1480.6 1918.2H1493.8M1480.6 1944.3H1493.8M1487.2 1918.2V1944.3" stroke="#111" stroke-width="1.5" fill="none"/>
<circle cx="1139.2" cy="2026.8" r="2.4" fill="#a0a0a0" stroke="#111" stroke-width="1.2"/>
<circle cx="1226.3" cy="1950.2" r="2.4" fill="#a0a0a0" stroke="#111" stroke-width="1.2"/>
<circle cx="1313.1" cy="1889.8" r="2.4" fill="#a0a0a0" stroke="#111" stroke-width="1.2"/>
<circle cx="1400" cy="1824.2" r="2.4" fill="#a0a0a0" stroke="#111" stroke-width="1.2"/>
<circle cx="1487.2" cy="1814.8" r="2.4" fill="#a0a0a0" stroke="#111" stroke-width="1.2"/>
<circle cx="1226.3" cy="1990.8" r="2.4" fill="#a0a0a0" stroke="#111" stroke-width="1.2"/>
<circle cx="1313.1" cy="1948.1" r="2.4" fill="#a0a0a0" stroke="#111" stroke-width="1.2"/>
<circle cx="1400" cy="1929" r="2.4" fill="#a0a0a0" stroke="#111" stroke-width="1.2"/>
<circle cx="1487.2" cy="1931" r="2.4" fill="#a0a0a0" stroke="#111" stroke-width="1.2"/>
<text x="1300.89" y="1860.41" font-size="21" textLength="15.98" lengthAdjust="spacingAndGlyphs">**</text>
<text x="1390.49" y="1800.52" font-size="21" textLength="15.98" lengthAdjust="spacingAndGlyphs">**</text>
<text x="1477.3" y="1791.41" font-size="21" textLength="15.57" lengthAdjust="spacingAndGlyphs">**</text>
<line x1="1341.2" y1="2035.9" x2="1357.6" y2="2035.9" stroke="#111" stroke-width="1.5"/>
<line x1="1341.2" y1="2065.1" x2="1346.5" y2="2065.1" stroke="#111" stroke-width="1.5"/>
<line x1="1350.3" y1="2065.1" x2="1355.6" y2="2065.1" stroke="#111" stroke-width="1.5"/>
<text x="1362.68" y="2042.7" font-size="21.53" textLength="56.01" lengthAdjust="spacingAndGlyphs">mock</text>
<text x="1362.56" y="2073.4" font-size="21.53" textLength="88.47" lengthAdjust="spacingAndGlyphs">inhibitor</text>
<text x="1149.06" y="1760.4" font-size="30.45" textLength="67.67" lengthAdjust="spacingAndGlyphs">MYC</text>
<text x="1131.41" y="1802.4" font-size="30.45" textLength="106.01" lengthAdjust="spacingAndGlyphs">GAPDH</text>
<defs><filter id="bh" filterUnits="userSpaceOnUse" x="700" y="1700" width="700" height="500"><feGaussianBlur stdDeviation="2.1"/></filter><clipPath id="ch1"><rect x="1245.9" y="1731" width="104.9" height="36.6"/></clipPath><clipPath id="ch2"><rect x="1247.5" y="1773.5" width="104.4" height="36.1"/></clipPath></defs>
<rect x="1245.9" y="1731" width="104.9" height="36.6" fill="#efefef"/>
<g clip-path="url(#ch1)"><g filter="url(#bh)">
<rect x="1251" y="1735" width="44" height="30" rx="6" fill="#000" opacity="0.12"/>
<rect x="1301" y="1735" width="42" height="26" rx="6" fill="#000" opacity="0.08"/>
<rect x="1256" y="1746.75" width="34" height="9.5" rx="4.75" fill="#000" opacity="1"/>
<rect x="1258" y="1750" width="30" height="5" rx="2.5" fill="#000" opacity="0.8"/>
<rect x="1305.5" y="1744.55" width="33" height="8.5" rx="4.25" fill="#000" opacity="0.62"/>
</g></g>
<rect x="1245.9" y="1731" width="104.9" height="36.6" fill="none" stroke="#111" stroke-width="1.3"/>
<rect x="1247.5" y="1773.5" width="104.4" height="36.1" fill="#efefef"/>
<g clip-path="url(#ch2)"><g filter="url(#bh)" fill="none" stroke-linecap="round">
<rect x="1252" y="1779" width="46" height="28" rx="6" fill="#000" opacity="0.1"/>
<rect x="1304" y="1778" width="44" height="28" rx="6" fill="#000" opacity="0.1"/>
<path d="M1258 1792.5Q1275.5 1799.25 1293 1793" stroke="#000" stroke-width="11" opacity="1"/>
<path d="M1260 1793.5Q1275.5 1799.25 1291 1794" stroke="#000" stroke-width="6" opacity="0.8"/>
<path d="M1310 1792.5Q1326.5 1796.75 1343 1790" stroke="#000" stroke-width="10.5" opacity="1"/>
<path d="M1312 1793Q1326 1797 1340 1791" stroke="#000" stroke-width="5" opacity="0.7"/>
</g></g>
<rect x="1247.5" y="1773.5" width="104.4" height="36.1" fill="none" stroke="#111" stroke-width="1.3"/>
<text x="1272.87" y="1718.94" font-size="30.45" transform="rotate(-41.1 1272.87 1718.94)" textLength="74.71" lengthAdjust="spacingAndGlyphs">mock</text>
<text x="1319.57" y="1723.96" font-size="30.45" transform="rotate(-39.9 1319.57 1723.96)" textLength="114.38" lengthAdjust="spacingAndGlyphs">inhibitor</text>
</g>
</svg>
</body>
</html>
